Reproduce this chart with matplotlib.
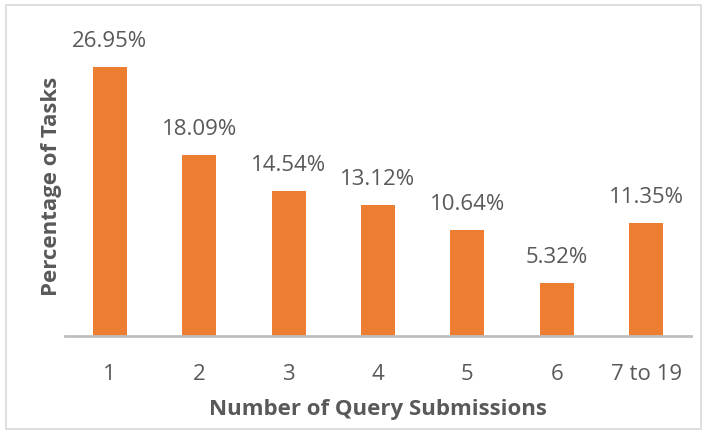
import matplotlib.pyplot as plt
from matplotlib.patches import Rectangle

plt.rcParams['font.family'] = ['Open Sans', 'DejaVu Sans']

categories = ['1', '2', '3', '4', '5', '6', '7 to 19']
percentages = [26.95, 18.09, 14.54, 13.12, 10.64, 5.32, 11.35]

fig = plt.figure(figsize=(7.08, 4.34), dpi=100)
fig.patches.append(Rectangle((0.008, 0.012), 0.982, 0.976, transform=fig.transFigure,
                             fill=False, edgecolor='#D9D9D9', linewidth=1.2))
ax = fig.add_axes([0.0918, 0.2258, 0.884, 0.691])

x = range(len(categories))
bars = ax.bar(x, percentages, width=0.38, color='#ED7D31', zorder=2)

for b, v in zip(bars, percentages):
    ax.text(b.get_x() + b.get_width() / 2, v + 1.5, f'{v:.2f}%',
            ha='center', va='bottom', fontsize=16, color='#595959')

ax.set_xlim(-0.5, len(categories) - 0.5)
ax.set_ylim(0, 30)
ax.set_xticks(list(x))
ax.set_xticklabels(categories, fontsize=16, color='#595959')
ax.tick_params(axis='x', length=0, pad=20)
ax.set_yticks([])
for s in ['top', 'right', 'left']:
    ax.spines[s].set_visible(False)
ax.spines['bottom'].set_color('#BFBFBF')
ax.spines['bottom'].set_linewidth(2)

ax.set_xlabel('Number of Query Submissions', fontsize=16, fontweight='bold',
              color='#595959', labelpad=10)
ax.set_ylabel('Percentage of Tasks', fontsize=16, fontweight='bold',
              color='#595959', labelpad=2)

fig.savefig('out.png', dpi=100)
